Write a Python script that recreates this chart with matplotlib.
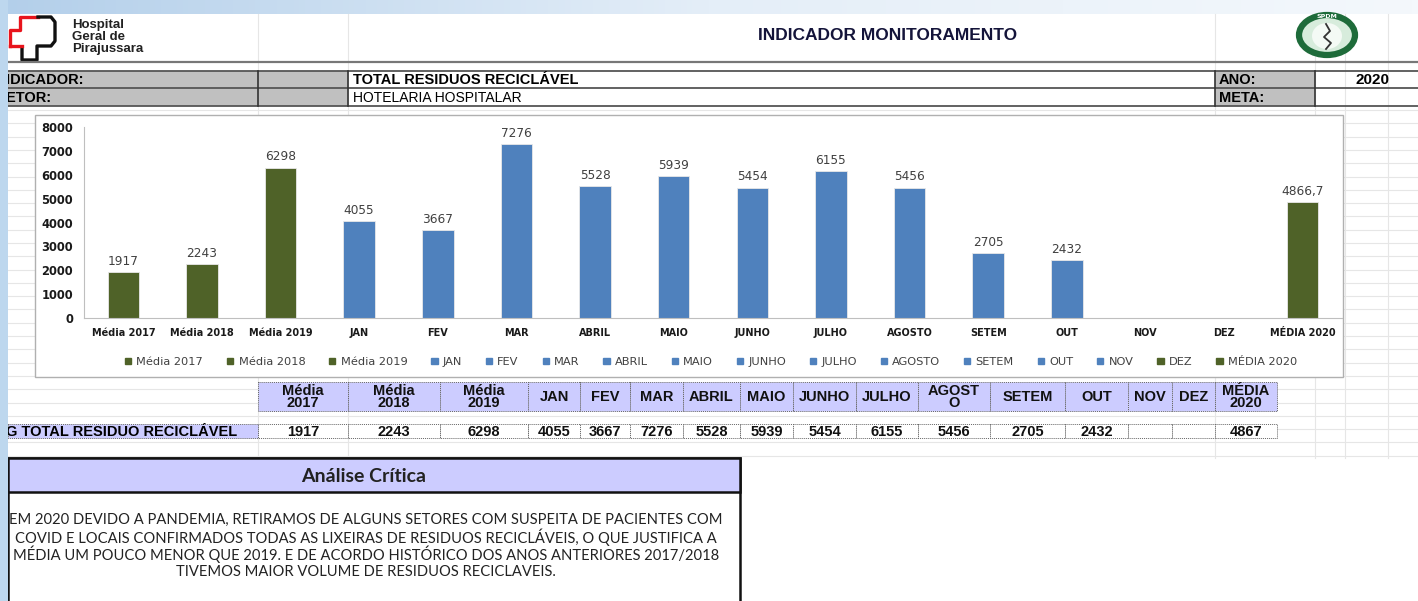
import numpy as np
import matplotlib
matplotlib.use('Agg')
import matplotlib.pyplot as plt
from matplotlib.patches import Rectangle, Patch, Ellipse

# chart data
categories = ['Média 2017', 'Média 2018', 'Média 2019', 'JAN', 'FEV', 'MAR', 'ABRIL', 'MAIO',
              'JUNHO', 'JULHO', 'AGOSTO', 'SETEM', 'OUT', 'NOV', 'DEZ', 'MÉDIA 2020']
values = [1917, 2243, 6298, 4055, 3667, 7276, 5528, 5939, 5454, 6155, 5456, 2705, 2432,
          np.nan, np.nan, 4866.7]
series_kind = ['avg', 'avg', 'avg', 'm', 'm', 'm', 'm', 'm', 'm', 'm', 'm', 'm', 'm', 'm', 'avg', 'avg']

# table under the chart
table_headers = ['Média\n2017', 'Média\n2018', 'Média\n2019', 'JAN', 'FEV', 'MAR', 'ABRIL', 'MAIO',
                 'JUNHO', 'JULHO', 'AGOST\nO', 'SETEM', 'OUT', 'NOV', 'DEZ', 'MÉDIA\n2020']
table_values = ['1917', '2243', '6298', '4055', '3667', '7276', '5528', '5939', '5454', '6155',
                '5456', '2705', '2432', '', '', '4867']
table_row_label = 'G TOTAL RESIDUO RECICLÁVEL'

analysis_title = 'Análise Crítica'
analysis_lines = [
    'EM 2020 DEVIDO A PANDEMIA, RETIRAMOS DE ALGUNS SETORES COM SUSPEITA DE PACIENTES COM',
    'COVID E LOCAIS CONFIRMADOS TODAS AS LIXEIRAS DE RESIDUOS RECICLÁVEIS, O QUE JUSTIFICA A',
    'MÉDIA UM POUCO MENOR QUE 2019. E DE ACORDO HISTÓRICO DOS ANOS ANTERIORES 2017/2018',
    'TIVEMOS MAIOR VOLUME DE RESIDUOS RECICLAVEIS.',
]

GREEN = '#4f6228'
BLUE = '#4f81bd'
LAVENDER = '#ccccff'
GRAYCELL = '#c0c0c0'
W, H = 1418, 601

fig = plt.figure(figsize=(W / 100, H / 100), dpi=100)

# sheet background in pixel coords
bg = fig.add_axes([0, 0, 1, 1])
bg.set_xlim(0, W)
bg.set_ylim(H, 0)
bg.axis('off')

# top gradient band and left strip
grad = np.linspace(0, 1, 256).reshape(1, -1)
cmap = matplotlib.colors.LinearSegmentedColormap.from_list('band', ['#b3cfea', '#e4eef8', '#f4f8fc'])
bg.imshow(grad, extent=(0, W, 14, 0), aspect='auto', cmap=cmap, zorder=0)
bg.add_patch(Rectangle((0, 0), 8, H, fc='#bdd7ee', ec='none', zorder=10))

# faint spreadsheet gridlines
for y in np.arange(110, 458, 13.3):
    bg.plot([8, W], [y, y], color='#e6e6e6', lw=0.8, zorder=1)
for x in [258, 348, 1215, 1315, 1345, 1388]:
    bg.plot([x, x], [14, 458], color='#e6e6e6', lw=0.8, zorder=1)

# header: hospital logo
red_pts = [(10, 46), (10, 30), (20, 30), (20, 17), (38, 17)]
blk_pts = [(38, 17), (51, 17), (55, 22), (55, 41), (51, 46), (37, 46), (37, 60), (22, 60), (22, 47)]
bg.plot(*zip(*red_pts), color='#e8141c', lw=2.4, zorder=3)
bg.plot(*zip(*blk_pts), color='#111111', lw=2.4, zorder=3)
bg.plot([10, 22], [46, 46], color='#e8141c', lw=2.4, zorder=3)
for i, t in enumerate(['Hospital', 'Geral de', 'Pirajussara']):
    bg.text(72, 25 + i * 12, t, fontsize=9.5, fontweight='bold', family='Liberation Sans',
            color='#222222', va='center', zorder=3)

bg.text(888, 36, 'INDICADOR MONITORAMENTO', fontsize=12.5, fontweight='bold',
        family='Liberation Sans', color='#14143a', ha='center', va='center', zorder=3)

# SPDM logo
bg.add_patch(Ellipse((1327, 35), 56, 40, fc='#d7ecdc', ec='#1e6b3a', lw=4.5, zorder=3))
bg.add_patch(Ellipse((1327, 36), 30, 26, fc='#f4faf5', ec='none', zorder=3))
bg.plot([1326, 1330, 1324, 1331, 1326], [24, 31, 37, 43, 49], color='#333333', lw=1.3, zorder=4)
bg.text(1327, 17, 'SPDM', fontsize=4.5, color='white', ha='center', va='center',
        fontweight='bold', zorder=4)

# header info rows
bg.plot([8, W], [62, 62], color='#777777', lw=1.6, zorder=3)
for y in [71, 88, 106]:
    bg.plot([8, W], [y, y], color='#555555', lw=1.3, zorder=3)
bg.add_patch(Rectangle((8, 71), 340, 35, fc=GRAYCELL, ec='none', zorder=2))
bg.add_patch(Rectangle((1215, 71), 100, 35, fc=GRAYCELL, ec='none', zorder=2))
for x in [258, 348, 1215, 1315]:
    bg.plot([x, x], [71, 106], color='#333333', lw=1.2, zorder=3)
row_font = dict(fontsize=10.5, fontweight='bold', family='Liberation Sans', va='center', zorder=4)
bg.text(6, 80, 'IDICADOR:', **row_font)
bg.text(6, 97.5, 'ETOR:', **row_font)
bg.text(353, 80, 'TOTAL RESIDUOS RECICLÁVEL', **row_font)
bg.text(353, 97.5, 'HOTELARIA HOSPITALAR', fontsize=10, family='Liberation Sans', va='center', zorder=4)
bg.text(1219, 80, 'ANO:', **row_font)
bg.text(1219, 97.5, 'META:', **row_font)
bg.text(1390, 80, '2020', ha='right', fontsize=11, fontweight='bold', family='Liberation Sans',
        va='center', zorder=4)

# chart box
bg.add_patch(Rectangle((35, 115), 1308, 262, fc='white', ec='#b0b0b0', lw=1, zorder=5))

# table below chart
col_edges = [258, 348, 440, 528, 580, 630, 683, 740, 793, 856, 918, 990, 1065, 1128, 1172, 1215, 1277]
cell_font = dict(fontsize=10.5, fontweight='bold', family='Liberation Sans', ha='center',
                 va='center', color='#111111', zorder=7)
for i, (hdr, val) in enumerate(zip(table_headers, table_values)):
    x0, x1 = col_edges[i], col_edges[i + 1]
    bg.add_patch(Rectangle((x0, 382), x1 - x0, 29, fc=LAVENDER, ec='#666666', lw=0.7,
                           ls=(0, (1, 1)), zorder=6))
    bg.add_patch(Rectangle((x0, 424), x1 - x0, 14, fc='white', ec='#666666', lw=0.7,
                           ls=(0, (1, 1)), zorder=6))
    bg.text((x0 + x1) / 2, 397, hdr, linespacing=0.88, **cell_font)
    bg.text((x0 + x1) / 2, 431.5, val, **cell_font)
bg.add_patch(Rectangle((8, 424), 250, 14, fc=LAVENDER, ec='#666666', lw=0.7,
                       ls=(0, (1, 1)), zorder=6))
bg.text(6, 431.5, table_row_label, fontsize=10.5, fontweight='bold', family='Liberation Sans',
        va='center', ha='left', zorder=7)

# analysis box
bg.add_patch(Rectangle((8, 458), 732, 160, fc='white', ec='#111111', lw=1.8, zorder=6))
bg.add_patch(Rectangle((8, 458), 732, 34, fc=LAVENDER, ec='#111111', lw=1.8, zorder=6))
bg.text(364, 476, analysis_title, fontsize=14, fontweight='bold', family='Lato',
        ha='center', va='center', color='#222222', zorder=7)
for i, line in enumerate(analysis_lines):
    bg.text(366, 520 + i * 17.3, line, fontsize=10.6, family='Lato', ha='center',
            va='center', color='#222222', zorder=7)

# bar chart
ax = fig.add_axes([84 / W, 1 - 318 / H, (1342 - 84) / W, (318 - 127) / H])
ax.patch.set_alpha(0)
x = np.arange(len(categories))
colors = [GREEN if k == 'avg' else BLUE for k in series_kind]
bars = ax.bar(x, values, width=0.4, color=colors, edgecolor='#e8e8e8', linewidth=0.6)
for xi, v in zip(x, values):
    if np.isnan(v):
        continue
    lbl = f'{v:.1f}'.replace('.', ',') if v % 1 else f'{int(v)}'
    ax.text(xi, v + 180, lbl, ha='center', va='bottom', fontsize=8.7, color='#404040')
ax.set_xlim(-0.5, len(categories) - 0.5)
ax.set_ylim(0, 8000)
ax.set_yticks(range(0, 8001, 1000))
ax.set_xticks(x)
ax.set_xticklabels(categories)
ax.tick_params(length=0, labelsize=7, colors='#1a1a1a')
ax.tick_params(axis='x', pad=7)
ax.tick_params(axis='y', pad=8, labelsize=8.3)
for lab in ax.get_xticklabels() + ax.get_yticklabels():
    lab.set_fontweight('bold')
for s in ['top', 'right']:
    ax.spines[s].set_visible(False)
for s in ['left', 'bottom']:
    ax.spines[s].set_color('#bfbfbf')

handles = [Patch(color=c) for c in colors]
fig.legend(handles, categories, loc='center', bbox_to_anchor=(711 / W, 1 - 362 / H), ncol=16,
           frameon=False, fontsize=8.2, handlelength=0.55, handleheight=0.55, handletextpad=0.45,
           columnspacing=2.1, labelcolor='#404040')

fig.savefig('out.png', dpi=100)
